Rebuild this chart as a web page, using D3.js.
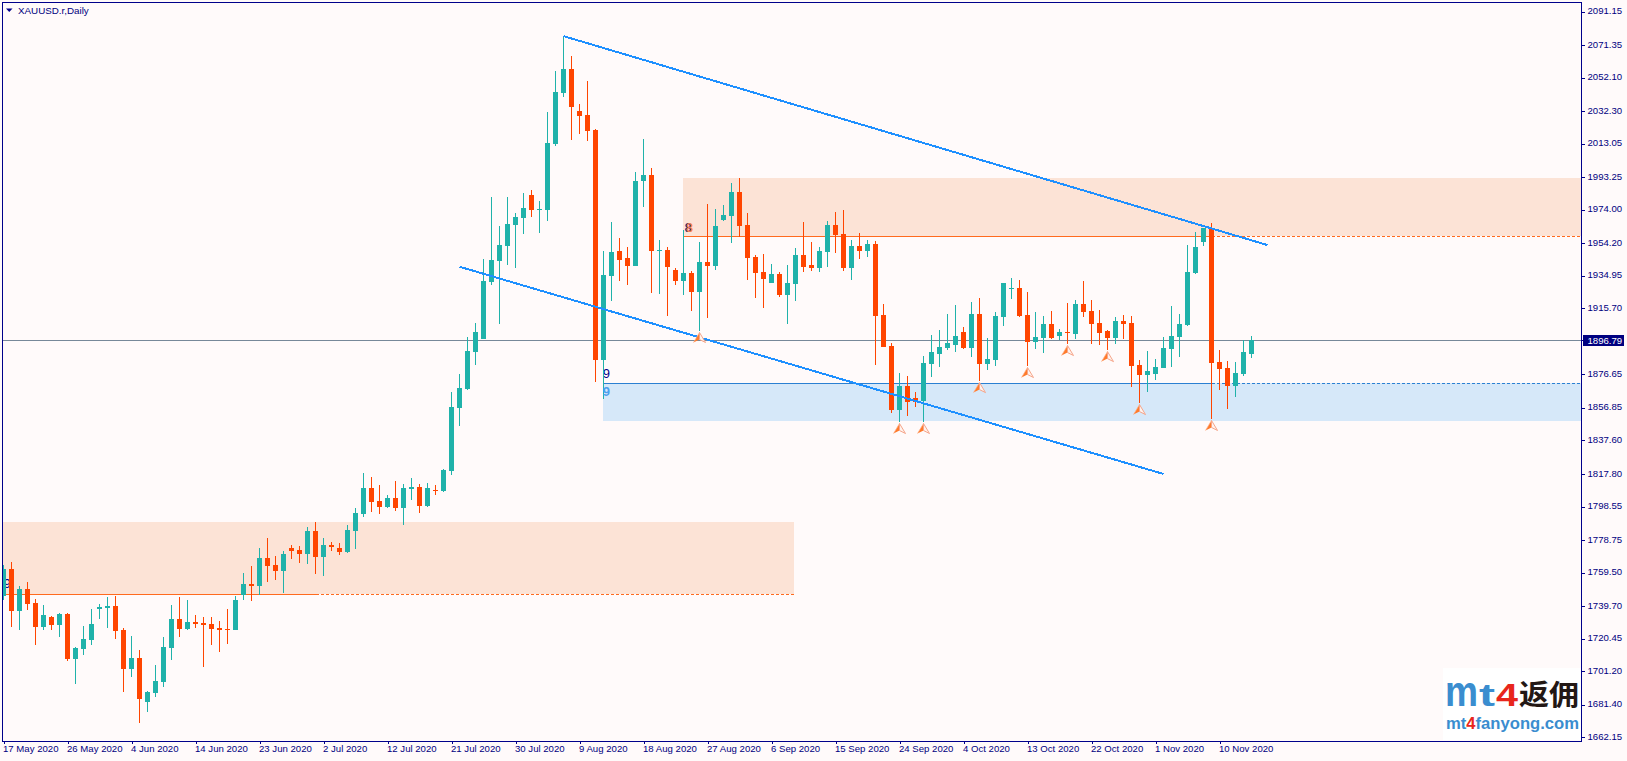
<!DOCTYPE html>
<html><head><meta charset="utf-8">
<script src="https://cdn.jsdelivr.net/npm/d3@7/dist/d3.min.js"></script>
<style>html,body{margin:0;padding:0;background:#fffafa;overflow:hidden}svg{display:block}
text{font-family:"Liberation Sans",Arial,sans-serif}</style></head><body><svg id="c" width="1627" height="761"></svg>
<script>
const highs=[1764.0,1765.7,1751.6,1753.9,1743.9,1740.3,1733.8,1735.6,1735.6,1715.5,
1727.9,1738.0,1740.9,1745.1,1745.7,1726.7,1722.0,1713.7,1689.5,1704.9,
1721.4,1740.3,1745.1,1743.3,1734.4,1733.2,1733.2,1730.9,1738.0,1745.7,
1759.2,1763.4,1774.0,1779.9,1769.3,1772.2,1775.8,1775.2,1786.4,1789.4,
1779.9,1777.6,1777.0,1787.6,1797.7,1818.3,1816.0,1811.3,1805.3,1813.6,
1811.8,1815.4,1811.8,1812.4,1811.3,1820.7,1866.2,1876.9,1898.7,1907.0,
1944.8,1981.4,1964.3,1981.4,1972.0,1983.8,1985.6,1979.1,2031.7,2055.9,
2076.6,2064.8,2036.4,2050.0,2021.6,1949.5,1966.7,1957.2,1951.9,1996.2,
2015.7,1998.6,1956.0,1951.9,1939.5,1961.9,1937.7,1954.9,1977.3,1974.4,
1976.7,1989.7,1992.7,1972.0,1947.2,1947.8,1941.9,1937.1,1941.3,1951.3,
1966.7,1954.9,1951.9,1967.3,1972.6,1973.8,1956.0,1960.2,1956.0,1955.4,
1918.2,1895.2,1877.4,1875.7,1866.2,1887.5,1899.9,1902.9,1912.3,1917.6,
1904.6,1919.4,1921.8,1898.1,1913.5,1930.6,1933.6,1932.4,1925.3,1913.5,
1911.1,1914.1,1903.4,1918.8,1920.6,1931.8,1920.6,1914.7,1902.9,1910.5,
1911.7,1911.1,1885.1,1890.4,1885.7,1898.7,1917.0,1912.3,1953.1,1960.8,
1963.2,1966.1,1891.0,1884.5,1883.9,1897.0,1899.3];
const lows=[1743.3,1727.3,1725.6,1737.4,1716.7,1725.6,1725.6,1721.4,1707.2,1693.6,
1710.8,1716.7,1732.1,1726.7,1720.2,1688.9,1697.8,1670.6,1677.1,1686.0,
1691.9,1707.8,1721.4,1725.6,1726.7,1703.7,1716.7,1712.6,1717.3,1725.6,
1743.3,1742.7,1746.2,1753.9,1755.1,1747.4,1767.5,1765.2,1764.6,1758.6,
1757.5,1772.2,1769.9,1771.1,1773.4,1792.3,1795.3,1794.1,1797.7,1795.9,
1787.6,1802.4,1794.7,1798.3,1805.3,1807.1,1817.2,1846.1,1867.4,1882.2,
1897.5,1929.4,1906.4,1941.3,1939.5,1959.6,1969.6,1960.2,1967.3,2011.6,
2040.6,2015.1,2018.7,2014.6,1872.1,1862.1,1920.0,1931.8,1929.4,1940.7,
1975.5,1924.7,1924.1,1911.1,1929.5,1923.5,1914.1,1902.3,1910.0,1938.3,
1967.3,1954.3,1958.0,1932.4,1921.8,1915.9,1930.6,1922.4,1906.4,1920.0,
1937.1,1937.7,1937.1,1940.1,1948.3,1937.7,1932.4,1944.8,1946.0,1882.2,
1892.8,1853.8,1848.5,1852.0,1857.4,1848.5,1875.1,1881.0,1891.0,1889.9,
1891.6,1886.9,1872.7,1879.2,1881.6,1905.2,1921.2,1910.5,1881.6,1891.6,
1889.3,1897.5,1897.0,1894.6,1897.5,1910.5,1894.6,1894.0,1891.0,1894.6,
1897.5,1869.2,1859.7,1866.2,1873.3,1880.4,1881.0,1886.9,1905.2,1935.9,
1952.5,1850.3,1867.4,1856.2,1863.3,1875.7,1886.3];
const opens=[1745.8,1761.6,1736.8,1749.8,1741.5,1727.3,1733.2,1728.5,1735.0,1708.4,
1714.3,1719.6,1738.0,1738.6,1739.8,1725.6,1702.5,1709.0,1683.0,1688.3,
1694.8,1714.9,1732.1,1726.2,1730.3,1729.7,1729.1,1726.7,1726.2,1725.6,
1746.2,1752.7,1751.6,1768.1,1764.0,1760.4,1774.0,1772.8,1770.5,1784.1,
1768.7,1775.8,1774.0,1771.7,1784.1,1794.1,1809.5,1801.8,1798.3,1803.6,
1797.7,1808.9,1810.1,1798.9,1808.3,1807.7,1819.5,1856.8,1868.0,1889.9,
1897.5,1931.2,1943.6,1952.5,1964.9,1969.0,1982.6,1973.8,1973.8,2012.8,
2042.9,2057.1,2032.3,2029.9,2021.0,1885.1,1934.8,1949.5,1945.4,1940.7,
1990.9,1994.5,1949.7,1950.1,1938.3,1931.8,1936.5,1925.3,1943.0,1940.7,
1967.9,1970.2,1984.4,1964.9,1946.0,1937.1,1930.6,1936.0,1923.5,1930.0,
1947.2,1941.3,1939.5,1948.9,1964.9,1959.6,1939.5,1952.5,1949.5,1953.7,
1911.7,1893.4,1855.6,1869.8,1862.7,1860.9,1882.8,1888.7,1892.2,1894.0,
1901.7,1892.2,1912.3,1882.8,1885.1,1910.5,1927.3,1927.7,1911.7,1895.8,
1898.1,1906.4,1899.3,1901.7,1900.5,1918.2,1914.1,1907.0,1902.3,1898.1,
1908.2,1907.0,1882.2,1876.3,1876.9,1880.4,1891.6,1898.7,1905.8,1936.5,
1954.9,1963.2,1883.9,1880.4,1869.8,1876.8,1888.7];
const closes=[1761.6,1736.8,1749.8,1740.9,1727.3,1734.4,1728.5,1735.0,1708.4,1714.9,
1720.2,1729.1,1739.2,1739.8,1725.0,1702.5,1709.0,1684.8,1688.9,1695.4,
1715.5,1732.1,1726.2,1730.3,1729.1,1728.5,1726.2,1725.6,1725.6,1743.3,
1752.7,1751.6,1768.1,1763.4,1760.4,1770.5,1772.2,1770.5,1784.1,1768.7,
1775.8,1774.6,1771.7,1784.7,1794.7,1809.5,1801.2,1798.3,1803.6,1797.7,
1809.5,1810.1,1798.9,1809.5,1808.1,1820.1,1857.4,1868.6,1890.4,1901.7,
1931.8,1944.2,1953.1,1965.5,1969.6,1975.0,1973.8,1974.4,2013.4,2043.5,
2057.1,2034.6,2029.3,2020.5,1885.1,1935.4,1948.9,1944.2,1940.7,1990.9,
1994.5,1949.5,1950.1,1940.1,1931.8,1936.5,1925.3,1943.0,1940.7,1964.3,
1970.8,1984.4,1964.3,1945.4,1936.5,1933.0,1936.0,1923.5,1930.6,1947.2,
1940.1,1939.5,1949.5,1964.9,1959.0,1939.5,1952.5,1949.5,1953.7,1911.1,
1892.8,1855.6,1869.8,1860.3,1860.3,1883.4,1889.9,1892.8,1895.2,1899.3,
1892.2,1912.3,1882.8,1885.7,1911.1,1930.6,1927.7,1911.1,1895.8,1898.7,
1906.4,1898.1,1901.7,1901.1,1918.2,1913.5,1906.4,1901.1,1898.1,1908.2,
1906.4,1881.6,1876.3,1878.6,1881.0,1892.2,1899.3,1906.4,1937.1,1951.9,
1963.2,1883.4,1879.8,1869.8,1877.5,1889.8,1896.79];
const priceTicks=[2091.15,2071.35,2052.10,2032.30,2013.05,1993.25,1974.00,1954.20,1934.95,1915.70,1876.65,1856.85,1837.60,1817.80,1798.55,1778.75,1759.50,1739.70,1720.45,1701.20,1681.40,1662.15];
const dateLabels=["17 May 2020","26 May 2020","4 Jun 2020","14 Jun 2020","23 Jun 2020","2 Jul 2020","12 Jul 2020","21 Jul 2020","30 Jul 2020","9 Aug 2020","18 Aug 2020","27 Aug 2020","6 Sep 2020","15 Sep 2020","24 Sep 2020","4 Oct 2020","13 Oct 2020","22 Oct 2020","1 Nov 2020","10 Nov 2020"];
const dateBars=dateLabels.map((d,i)=>i*8);
const lastPrice=1896.79;
const symbol="XAUUSD.r,Daily";
// zones: [bar0, bar1, priceTop, priceBottom]
const zoneLow=[-1,98.9,1789.4,1746.6];
const zoneHigh=[85,200,1992.7,1958.2];
const zoneBlue=[75,200,1871.3,1849.1];
// level lines: [bar0, barSolidEnd, barDashEnd, price]
const levelLow=[-1,39,98.9,1746.6];
const levelHigh=[85,151,200,1958.2];
const levelBlue=[75,151,200,1871.3];
// trend lines: [bar0, price0, bar1, price1]
const trendUpper=[70,2076.6,158,1953.1];
const trendLower=[57,1940.3,145,1817.8];
const arrowBars=[87,112,115,122,128,133,138,142,151];
// labels: [bar, price, text]
const navyLabels=[[0,1750.4,"9"],[74.9,1874.7,"9"]];
const sky=[74.9,1864.0,"9"];
const eightLabel=[85.15,1961.0,"8"];

const C={bg:"#fffafa",up:"#20b2aa",dn:"#ff4500",ax:"#00008b",price:"#778899",trend:"#1e90ff",peach:"#fce3d6",sky:"#d6e8f9",lvlO:"#ff6a1e",lvlB:"#2b80d2"};
const svg=d3.select("#c");
const L=3,R=1581,T=3,B=740;
const x=d3.scaleLinear().domain([0,156]).range([3.5,1251.5]);
const y=d3.scaleLinear().domain([1662.15,2091.15]).range([737.3,11.5]);
svg.append("rect").attr("width",1627).attr("height",761).attr("fill",C.bg);
svg.append("defs").append("clipPath").attr("id","plot").append("rect").attr("x",L).attr("y",T).attr("width",R-L).attr("height",B-T);
const g=svg.append("g").attr("clip-path","url(#plot)");
const crisp=s=>s.attr("shape-rendering","crispEdges");
// zones
[[zoneLow,C.peach],[zoneHigh,C.peach],[zoneBlue,C.sky]].forEach(([z,col])=>{
  crisp(g.append("rect").attr("x",x(z[0])-0.5).attr("width",x(z[1])-x(z[0])).attr("y",Math.round(y(z[2]))).attr("height",Math.round(y(z[3]))-Math.round(y(z[2]))).attr("fill",col));
});
// levels
[[levelLow,C.lvlO],[levelHigh,C.lvlO],[levelBlue,C.lvlB]].forEach(([l,col])=>{
  const yy=Math.round(y(l[3]))+0.5;
  crisp(g.append("line").attr("x1",x(l[0])-0.5).attr("x2",x(l[1])).attr("y1",yy).attr("y2",yy).attr("stroke",col));
  crisp(g.append("line").attr("x1",x(l[1])).attr("x2",x(l[2])).attr("y1",yy).attr("y2",yy).attr("stroke",col).attr("stroke-dasharray","3,2"));
});
// price line
const py=Math.round(y(lastPrice))+0.5;
crisp(g.append("line").attr("x1",L).attr("x2",R).attr("y1",py).attr("y2",py).attr("stroke",C.price));
// text markers drawn behind the candles
navyLabels.forEach(t=>{
  g.append("text").attr("x",x(t[0])).attr("y",y(t[1])).attr("font-size",13).attr("fill","#00008b").text(t[2]);
});
// candles
const bars=d3.range(opens.length).map(i=>({i,o:opens[i],h:highs[i],l:lows[i],c:closes[i]}));
const cg=crisp(g.append("g"));
const col=d=>d.c>=d.o?C.up:C.dn;
cg.selectAll(".w").data(bars).join("rect").attr("x",d=>x(d.i)-0.5).attr("width",1).attr("y",d=>Math.round(y(d.h))).attr("height",d=>Math.max(1,Math.round(y(d.l))-Math.round(y(d.h)))).attr("fill",col);
cg.selectAll(".b").data(bars).join("rect").attr("x",d=>x(d.i)-2.5).attr("width",5)
 .attr("y",d=>Math.round(y(Math.max(d.o,d.c)))).attr("height",d=>Math.max(1,Math.round(y(Math.min(d.o,d.c)))-Math.round(y(Math.max(d.o,d.c))))).attr("fill",col);
g.append("text").attr("x",x(sky[0])).attr("y",y(sky[1])).attr("font-size",13).attr("font-weight","bold").attr("fill","#4da0ee").text(sky[2]);
g.append("text").attr("x",x(eightLabel[0])).attr("y",y(eightLabel[1])).attr("font-size",13).attr("font-weight","bold").attr("fill","#00008b").text(eightLabel[2]);
g.append("text").attr("x",x(eightLabel[0])+1).attr("y",y(eightLabel[1])).attr("font-size",13).attr("font-weight","bold").attr("fill","#f5804a").text(eightLabel[2]);
// trend lines
[trendUpper,trendLower].forEach(t=>{
  crisp(g.append("line").attr("x1",x(t[0])).attr("y1",y(t[1])).attr("x2",x(t[2])).attr("y2",y(t[3])).attr("stroke",C.trend).attr("stroke-width",2));
});
// arrows
arrowBars.forEach(i=>{
  const cx=x(i),ty=y(lows[i])+1.5;
  const a=g.append("g").attr("transform",`translate(${cx},${ty})`);
  a.append("path").attr("d","M0,0L-6,10L0,7Z").attr("fill","#ff7a2a");
  a.append("path").attr("d","M0,0L6,10L0,7Z").attr("fill","#fff3ee").attr("stroke","#f6a58a").attr("stroke-width",1);
  a.append("path").attr("d","M0,0L-6,10").attr("stroke","#ffb08a").attr("stroke-width",0.7);
});
// frame
const frame=svg.append("g").attr("shape-rendering","crispEdges").attr("stroke",C.ax);
frame.append("line").attr("x1",2.5).attr("x2",2.5).attr("y1",2).attr("y2",741);
frame.append("line").attr("x1",2).attr("x2",R+1).attr("y1",2.5).attr("y2",2.5);
// axes
const yAxis=svg.append("g").attr("transform",`translate(${R+0.5},0)`)
 .call(d3.axisRight(y).tickValues(priceTicks).tickSize(3).tickPadding(3).tickFormat(d=>d.toFixed(2)));
const xAxis=svg.append("g").attr("transform",`translate(0,${B+0.5})`)
 .call(d3.axisBottom(x).tickValues(dateBars).tickSize(3).tickFormat((d,i)=>dateLabels[i]));
[yAxis,xAxis].forEach(a=>{
  a.attr("font-family",null).attr("font-size",null);
  a.select(".domain").attr("stroke",C.ax).attr("shape-rendering","crispEdges");
  a.selectAll("line").attr("stroke",C.ax).attr("shape-rendering","crispEdges");
  a.selectAll("text").attr("fill","#000080").attr("font-size","9.6px");
});
xAxis.select(".domain").attr("d",`M2,0.5H${R+1}`);
xAxis.selectAll("text").attr("text-anchor","start").attr("x",-1).attr("y",5).attr("dy","0.71em");
yAxis.select(".domain").attr("d",`M0,2V${B+1}`);
yAxis.selectAll("text").attr("y",-1);
// current price tag
svg.append("rect").attr("x",1583).attr("y",335).attr("width",41).attr("height",11).attr("fill","#000080").attr("shape-rendering","crispEdges");
svg.append("line").attr("x1",R).attr("x2",1583).attr("y1",py).attr("y2",py).attr("stroke",C.ax).attr("shape-rendering","crispEdges");
svg.append("text").attr("x",1587.5).attr("y",344).attr("font-size","9.6px").attr("fill","#fff").text(lastPrice.toFixed(2));
// title
svg.append("path").attr("d","M6,8.5H12.5L9.25,12Z").attr("fill","#00008b");
svg.append("text").attr("x",18).attr("y",13.5).attr("font-size","9.8px").attr("fill","#000080").text(symbol);
// watermark
const logoBlue="#3a8dcf",logoRed="#e8261c",logoInk="#231815";
svg.append("rect").attr("x",1443).attr("y",668).attr("width",138).attr("height",72).attr("fill","#fff");
const bold=(x0,y0,size,fill,t,len,fam)=>svg.append("text").attr("x",x0).attr("y",y0).attr("font-size",size).attr("font-weight","bold").attr("fill",fill).attr("textLength",len).attr("lengthAdjust","spacingAndGlyphs").style("font-family",fam||'"Liberation Sans"').text(t);
bold(1445,706,42,logoBlue,"m",33);
bold(1479,706,32,logoBlue,"t",16);
bold(1496,706,32,logoRed,"4",22);
bold(1519,705,28,logoInk,"返佣",60,'"Noto Sans CJK SC"');
const wm=svg.append("text").attr("x",1446).attr("y",729).attr("font-size","16px").attr("font-weight","bold").attr("fill",logoBlue).attr("textLength",133).attr("lengthAdjust","spacingAndGlyphs");
wm.append("tspan").text("mt");wm.append("tspan").attr("fill",logoRed).text("4");wm.append("tspan").text("fanyong.com");
</script></body></html>
